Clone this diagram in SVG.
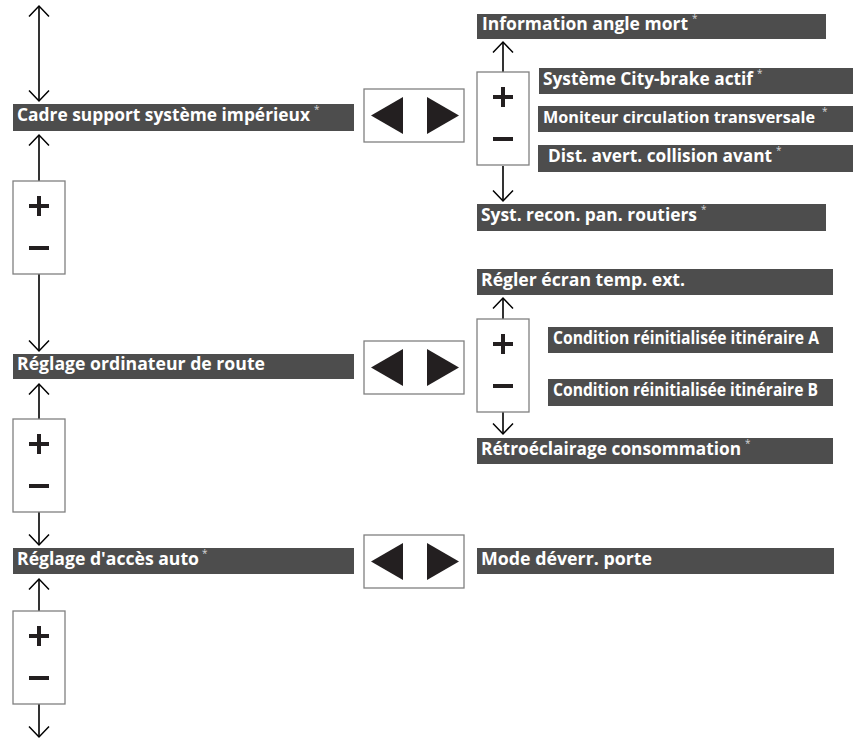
<svg xmlns="http://www.w3.org/2000/svg" width="861" height="739" viewBox="0 0 861 739">
  <style>
    .bar { fill: #4d4d4d; }
    .lbl { fill: #ffffff; font-family: "Open Sans", "Liberation Sans", sans-serif; font-weight: bold; font-size: 17px; }
    .ast { fill: #d8d8d8; font-family: "Open Sans", "Liberation Sans", sans-serif; font-weight: normal; font-size: 10px; }
    .frame { fill: #ffffff; stroke: #808080; stroke-width: 1.3; }
    .sign { fill: #231f20; }
    .wire { fill: none; stroke: #000000; stroke-width: 1.6; }
  </style>
  <defs>
    <marker id="head" markerUnits="userSpaceOnUse" markerWidth="24" markerHeight="24" viewBox="-12 -12 24 24" refX="0" refY="0" orient="auto-start-reverse">
      <path d="M-10.5,-10 L0,0 L-10.5,10" fill="none" stroke="#000" stroke-width="1.5"/>
    </marker>
    <!-- plus / minus button -->
    <g id="pm">
      <rect class="frame" x="0" y="0" width="52" height="93"/>
      <rect class="sign" x="16" y="23" width="20" height="4"/>
      <rect class="sign" x="24" y="15" width="4" height="20"/>
      <rect class="sign" x="16" y="65" width="20" height="4"/>
    </g>
    <!-- left / right button -->
    <g id="lr">
      <rect class="frame" x="0" y="0" width="100" height="53"/>
      <path class="sign" d="M7,26.5 L39,8 L39,45 Z"/>
      <path class="sign" d="M63,8 L95,26.5 L63,45 Z"/>
    </g>
  </defs>

  <rect width="861" height="739" fill="#ffffff"/>

  <!-- connectors -->
  <g id="connectors">
    <path class="wire" d="M39,6 L39,101" marker-start="url(#head)" marker-end="url(#head)"/>
    <path class="wire" d="M39,181 L39,135" marker-end="url(#head)"/>
    <path class="wire" d="M39,274 L39,351" marker-end="url(#head)"/>
    <path class="wire" d="M39,419 L39,384" marker-end="url(#head)"/>
    <path class="wire" d="M39,512 L39,545" marker-end="url(#head)"/>
    <path class="wire" d="M39,611 L39,579" marker-end="url(#head)"/>
    <path class="wire" d="M39,704 L39,737" marker-end="url(#head)"/>
    <path class="wire" d="M503,72 L503,42" marker-end="url(#head)"/>
    <path class="wire" d="M503,166 L503,201" marker-end="url(#head)"/>
    <path class="wire" d="M503,319 L503,298" marker-end="url(#head)"/>
    <path class="wire" d="M503,412 L503,434" marker-end="url(#head)"/>
  </g>

  <!-- left column -->
  <g id="cadre">
    <rect class="bar" x="13" y="104" width="341" height="27"/>
    <text class="lbl" x="17" y="121" textLength="293" lengthAdjust="spacingAndGlyphs">Cadre support système impérieux</text>
    <text class="ast" x="314" y="113">*</text>
  </g>
  <g id="pm-1"><use href="#pm" x="13" y="181"/></g>
  <g id="lr-1"><use href="#lr" x="364" y="89"/></g>

  <g id="ordinateur">
    <rect class="bar" x="13" y="354" width="341" height="25"/>
    <text class="lbl" x="17" y="370" textLength="248" lengthAdjust="spacingAndGlyphs">Réglage ordinateur de route</text>
  </g>
  <g id="pm-2"><use href="#pm" x="13" y="419"/></g>
  <g id="lr-2"><use href="#lr" x="364" y="341"/></g>

  <g id="acces">
    <rect class="bar" x="13" y="548" width="341" height="26"/>
    <text class="lbl" x="17" y="565" textLength="182" lengthAdjust="spacingAndGlyphs">Réglage d'accès auto</text>
    <text class="ast" x="202" y="557">*</text>
  </g>
  <g id="pm-3"><use href="#pm" x="13" y="611"/></g>
  <g id="lr-3"><use href="#lr" x="364" y="535"/></g>

  <!-- right column, first group -->
  <g id="angle-mort">
    <rect class="bar" x="477" y="14" width="349" height="25"/>
    <text class="lbl" x="482" y="30" textLength="206" lengthAdjust="spacingAndGlyphs">Information angle mort</text>
    <text class="ast" x="692" y="22">*</text>
  </g>
  <g id="pm-4"><use href="#pm" x="477" y="72"/></g>
  <g id="city-brake">
    <rect class="bar" x="539" y="68" width="314" height="26"/>
    <text class="lbl" x="543" y="85" textLength="210" lengthAdjust="spacingAndGlyphs">Système City-brake actif</text>
    <text class="ast" x="757" y="77">*</text>
  </g>
  <g id="moniteur">
    <rect class="bar" x="538" y="106" width="315" height="26"/>
    <text class="lbl" x="543" y="123" style="font-size:16.2px" textLength="272" lengthAdjust="spacingAndGlyphs">Moniteur circulation transversale</text>
    <text class="ast" x="822" y="115">*</text>
  </g>
  <g id="collision">
    <rect class="bar" x="538" y="145" width="315" height="27"/>
    <text class="lbl" x="548" y="162" textLength="224" lengthAdjust="spacingAndGlyphs">Dist. avert. collision avant</text>
    <text class="ast" x="776" y="154">*</text>
  </g>
  <g id="panneaux">
    <rect class="bar" x="477" y="204" width="349" height="27"/>
    <text class="lbl" x="481" y="221" textLength="216" lengthAdjust="spacingAndGlyphs">Syst. recon. pan. routiers</text>
    <text class="ast" x="701" y="213">*</text>
  </g>

  <!-- right column, second group -->
  <g id="temp-ext">
    <rect class="bar" x="477" y="269" width="356" height="26"/>
    <text class="lbl" x="481" y="286" textLength="204" lengthAdjust="spacingAndGlyphs">Régler écran temp. ext.</text>
  </g>
  <g id="pm-5"><use href="#pm" x="477" y="319"/></g>
  <g id="itineraire-a">
    <rect class="bar" x="548" y="327" width="285" height="26"/>
    <text class="lbl" x="553" y="344" textLength="266" lengthAdjust="spacingAndGlyphs">Condition réinitialisée itinéraire A</text>
  </g>
  <g id="itineraire-b">
    <rect class="bar" x="548" y="379" width="285" height="27"/>
    <text class="lbl" x="553" y="396" textLength="265" lengthAdjust="spacingAndGlyphs">Condition réinitialisée itinéraire B</text>
  </g>
  <g id="retroeclairage">
    <rect class="bar" x="477" y="438" width="356" height="26"/>
    <text class="lbl" x="481" y="455" textLength="260" lengthAdjust="spacingAndGlyphs">Rétroéclairage consommation</text>
    <text class="ast" x="745" y="447">*</text>
  </g>

  <!-- right column, third group -->
  <g id="deverrouillage">
    <rect class="bar" x="477" y="548" width="357" height="26"/>
    <text class="lbl" x="481" y="565" textLength="171" lengthAdjust="spacingAndGlyphs">Mode déverr. porte</text>
  </g>
</svg>
